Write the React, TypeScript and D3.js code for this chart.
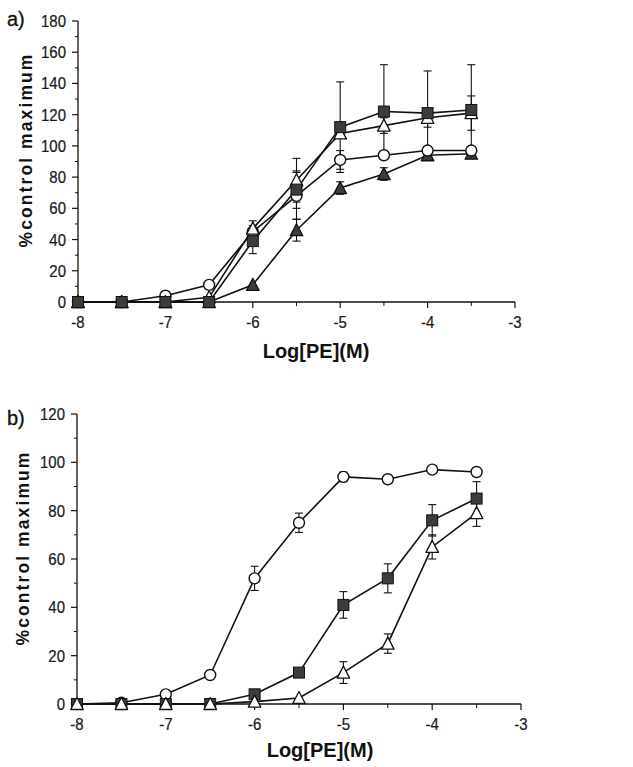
import React from "react";
import * as d3 from "d3";

// ---------- data ----------
const logPE = [-8, -7.5, -7, -6.5, -6, -5.5, -5, -4.5, -4, -3.5];

// panel a
const aFilledSquare = [0, 0, 0, 0, 39, 72, 112, 122, 121, 123];
const aFilledSquareErr = [0, 0, 0, 0, 8, 12, 29, 30, 27, 29];
const aOpenTriangle = [0, 0, 0, 3, 47, 78, 108, 113, 118, 121];
const aOpenTriangleErr = [0, 0, 0, 0, 5, 14, 0, 5, 6, 11];
const aOpenCircle = [0, 0, 4, 11, 45, 68, 91, 94, 97, 97];
const aOpenCircleErr = [0, 0, 0, 0, 4, 15, 6, 0, 0, 0];
const aFilledTriangle = [0, 0, 0, 0, 11, 46, 73, 82, 94, 95];
const aFilledTriangleErr = [0, 0, 0, 0, 0, 7, 4, 4, 0, 0];

// panel b
const bOpenCircle = [0, 0.5, 4, 12, 52, 75, 94, 93, 97, 96];
const bOpenCircleErr = [0, 0, 0, 0, 5, 4, 2, 0, 0, 0];
const bFilledSquare = [0, 0, 0, 0, 4, 13, 41, 52, 76, 85];
const bFilledSquareErr = [0, 0, 0, 0, 0, 0, 5.5, 6, 6.5, 7];
const bOpenTriangle = [0, 0, 0, 0, 1, 2.5, 13, 25, 65, 79];
const bOpenTriangleErr = [0, 0, 0, 0, 0, 0, 4.5, 4, 5, 5.5];

const aYTicks = [0, 20, 40, 60, 80, 100, 120, 140, 160, 180];
const bYTicks = [0, 20, 40, 60, 80, 100, 120];
const xTicks = [-8, -7, -6, -5, -4, -3];

const FONT = "'Liberation Sans', Arial, Helvetica, sans-serif";
const DARK = "#3c3c3c";

type Marker = "square" | "circle" | "triUp" | "triFilled";
interface Series { values: number[]; err: number[]; marker: Marker; }

function MarkerShape({ m, cx, cy }: { m: Marker; cx: number; cy: number }) {
  if (m === "square")
    return <rect x={cx - 5.5} y={cy - 5.5} width={11} height={11} fill={DARK} stroke="#111" strokeWidth={1} />;
  if (m === "circle")
    return <circle cx={cx} cy={cy} r={5.5} fill="#fff" stroke="#111" strokeWidth={1.4} />;
  const h = 11, w = 12.5;
  const pts = `${cx},${cy - h / 2 - 1} ${cx - w / 2},${cy + h / 2} ${cx + w / 2},${cy + h / 2}`;
  return <polygon points={pts} fill={m === "triFilled" ? DARK : "#fff"} stroke="#111" strokeWidth={1.3} strokeLinejoin="round" />;
}

function TickText({ x, y, anchor, children }: { x: number; y: number; anchor: string; children: React.ReactNode }) {
  return (
    <g transform={`translate(${x},${y}) scale(0.88,1)`}>
      <text textAnchor={anchor} fontFamily={FONT} fontSize={17} fill="#1a1a1a" stroke="#1a1a1a" strokeWidth={0.25}>{children}</text>
    </g>
  );
}

function Panel({
  label, series, yMax, yTicks, xRange, yRange, labelPos, yTitlePos, xTitlePos,
}: {
  label: string; series: Series[]; yMax: number; yTicks: number[];
  xRange: [number, number]; yRange: [number, number];
  labelPos: [number, number]; yTitlePos: [number, number]; xTitlePos: [number, number];
}) {
  const x = d3.scaleLinear().domain([-8, -3]).range(xRange);
  const y = d3.scaleLinear().domain([0, yMax]).range(yRange);
  const x0 = xRange[0];
  const y0 = yRange[0];
  const minorY = d3.range(0, yMax + 0.1, 10).filter((v) => v % 20 !== 0);
  const minorX = d3.range(-7.5, -3, 1);
  const line = d3.line<number>().x((_, i) => x(logPE[i])).y((v) => y(v));
  return (
    <g>
      <text x={labelPos[0]} y={labelPos[1]} fontFamily={FONT} fontSize={20} fill="#111" stroke="#111" strokeWidth={0.3}>{label}</text>
      {/* axes */}
      <line x1={x0} x2={x0} y1={y0} y2={y(yMax)} stroke="#111" strokeWidth={1.3} />
      <line x1={x0} x2={xRange[1]} y1={y0} y2={y0} stroke="#111" strokeWidth={1.3} />
      {yTicks.map((t) => (
        <g key={"yt" + t}>
          <line x1={x0 - 6} x2={x0} y1={y(t)} y2={y(t)} stroke="#111" strokeWidth={1.2} />
          <TickText x={x0 - 12} y={y(t) + 6} anchor="end">{t}</TickText>
        </g>
      ))}
      {minorY.map((t) => (
        <line key={"ym" + t} x1={x0 - 3} x2={x0} y1={y(t)} y2={y(t)} stroke="#111" strokeWidth={1} />
      ))}
      {xTicks.map((t) => (
        <g key={"xt" + t}>
          <line x1={x(t)} x2={x(t)} y1={y0} y2={y0 + 6} stroke="#111" strokeWidth={1.2} />
          <TickText x={x(t)} y={y0 + 26} anchor="middle">{t}</TickText>
        </g>
      ))}
      {minorX.map((t) => (
        <line key={"xm" + t} x1={x(t)} x2={x(t)} y1={y0} y2={y0 + 4} stroke="#111" strokeWidth={1} />
      ))}
      <text x={xTitlePos[0]} y={xTitlePos[1]} textAnchor="middle" fontFamily={FONT} fontWeight="bold" fontSize={20} fill="#111">Log[PE](M)</text>
      <text transform={`translate(${yTitlePos[0]},${yTitlePos[1]}) rotate(-90)`} textAnchor="middle" fontFamily={FONT} fontWeight="bold" fontSize={17.5} letterSpacing={2.1} fill="#111">%control maximum</text>
      {/* error bars */}
      {series.map((s, si) => s.values.map((v, i) => s.err[i] > 0 ? (
        <g key={`e${si}-${i}`} stroke="#111" strokeWidth={1.1}>
          <line x1={x(logPE[i])} x2={x(logPE[i])} y1={y(v - s.err[i])} y2={y(v + s.err[i])} />
          <line x1={x(logPE[i]) - 4} x2={x(logPE[i]) + 4} y1={y(v - s.err[i])} y2={y(v - s.err[i])} />
          <line x1={x(logPE[i]) - 4} x2={x(logPE[i]) + 4} y1={y(v + s.err[i])} y2={y(v + s.err[i])} />
        </g>
      ) : null))}
      {series.map((s, si) => (
        <path key={"l" + si} d={line(s.values) || ""} fill="none" stroke="#111" strokeWidth={1.6} />
      ))}
      {series.map((s, si) => s.values.map((v, i) => (
        <MarkerShape key={`m${si}-${i}`} m={s.marker} cx={x(logPE[i])} cy={y(v)} />
      )))}
    </g>
  );
}

export default function App() {
  const seriesA: Series[] = [
    { values: aFilledTriangle, err: aFilledTriangleErr, marker: "triFilled" },
    { values: aOpenCircle, err: aOpenCircleErr, marker: "circle" },
    { values: aOpenTriangle, err: aOpenTriangleErr, marker: "triUp" },
    { values: aFilledSquare, err: aFilledSquareErr, marker: "square" },
  ];
  const seriesB: Series[] = [
    { values: bOpenCircle, err: bOpenCircleErr, marker: "circle" },
    { values: bFilledSquare, err: bFilledSquareErr, marker: "square" },
    { values: bOpenTriangle, err: bOpenTriangleErr, marker: "triUp" },
  ];
  return (
    <svg width={633} height={767} style={{ position: "absolute", left: 0, top: 0, background: "#fff" }}>
      <rect width={633} height={767} fill="#fff" />
      <Panel label="a)" series={seriesA} yMax={180} yTicks={aYTicks}
        xRange={[78, 515]} yRange={[302, 21]} labelPos={[7, 26]}
        yTitlePos={[32, 150]} xTitlePos={[316, 358]} />
      <Panel label="b)" series={seriesB} yMax={120} yTicks={bYTicks}
        xRange={[77, 521]} yRange={[704, 414]} labelPos={[7, 425]}
        yTitlePos={[29, 548]} xTitlePos={[320, 757]} />
    </svg>
  );
}
